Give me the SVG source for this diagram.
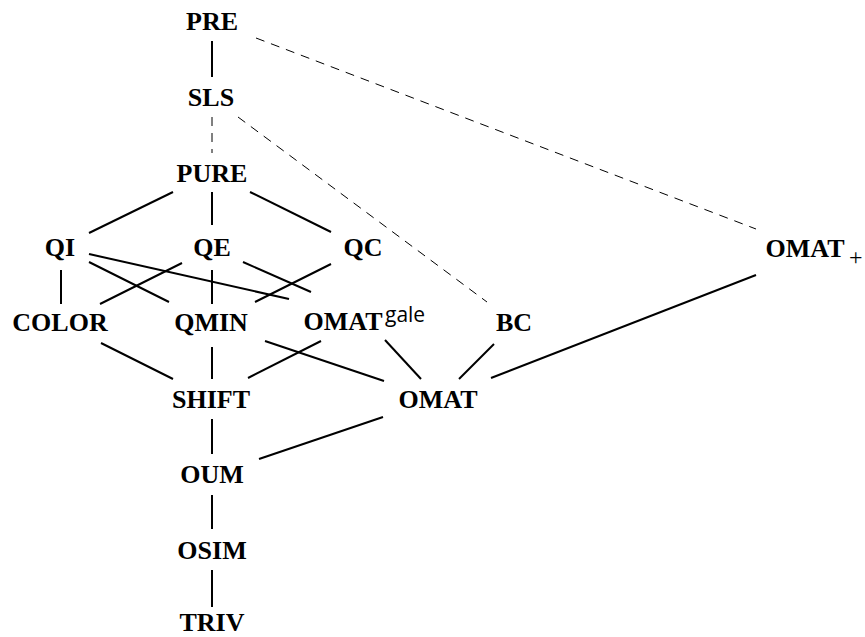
<svg xmlns="http://www.w3.org/2000/svg" width="865" height="637" viewBox="0 0 865 637">
<style>
.n{font-family:"Liberation Serif","DejaVu Serif",serif;font-weight:bold;font-size:26px;fill:#000;text-anchor:middle}
.sup{font-family:"Open Sans","Noto Sans",sans-serif;font-weight:normal;font-size:21px;fill:#000}
.sub{font-family:"Liberation Serif",serif;font-weight:normal;font-size:24px;fill:#000}
.s{stroke:#000;stroke-width:2;fill:none}
.d{stroke:#000;stroke-width:1;fill:none;stroke-dasharray:9 7}
</style>
<rect width="865" height="637" fill="#fff"/>
<g id="connectors">
<line class="s" x1="212" y1="41" x2="212" y2="77"/>
<line class="d" x1="212" y1="117" x2="212" y2="153"/>
<line class="d" x1="256" y1="38" x2="756" y2="229"/>
<line class="d" x1="238" y1="117" x2="487" y2="302"/>
<line class="s" x1="173" y1="192" x2="89" y2="233"/>
<line class="s" x1="212" y1="192" x2="212" y2="225"/>
<line class="s" x1="250" y1="192" x2="331" y2="232"/>
<line class="s" x1="61" y1="270" x2="61" y2="304"/>
<line class="s" x1="89" y1="262" x2="169" y2="302"/>
<line class="s" x1="89" y1="254" x2="289" y2="299"/>
<line class="s" x1="182" y1="263" x2="100" y2="304"/>
<line class="s" x1="212" y1="270" x2="212" y2="304"/>
<line class="s" x1="243" y1="262" x2="311" y2="292"/>
<line class="s" x1="331" y1="264" x2="255" y2="302"/>
<line class="s" x1="101" y1="343" x2="173" y2="379"/>
<line class="s" x1="212" y1="347" x2="212" y2="379"/>
<line class="s" x1="321" y1="341" x2="248" y2="378"/>
<line class="s" x1="265" y1="341" x2="384" y2="381"/>
<line class="s" x1="385" y1="340" x2="421" y2="379"/>
<line class="s" x1="494" y1="344" x2="459" y2="379"/>
<line class="s" x1="491" y1="378" x2="756" y2="275"/>
<line class="s" x1="212" y1="419" x2="212" y2="454"/>
<line class="s" x1="383" y1="417" x2="259" y2="459"/>
<line class="s" x1="212" y1="495" x2="212" y2="529"/>
<line class="s" x1="212" y1="570" x2="212" y2="607"/>
</g>
<g id="PRE"><text class="n" x="212" y="30">PRE</text></g>
<g id="SLS"><text class="n" x="211" y="106">SLS</text></g>
<g id="PURE"><text class="n" x="212" y="182">PURE</text></g>
<g id="QI"><text class="n" x="60" y="256">QI</text></g>
<g id="QE"><text class="n" x="212" y="256">QE</text></g>
<g id="QC"><text class="n" x="363" y="256">QC</text></g>
<g id="OMATplus"><text class="n" x="805" y="257">OMAT</text><text class="sub" x="849" y="265">+</text></g>
<g id="COLOR"><text class="n" x="60" y="331">COLOR</text></g>
<g id="QMIN"><text class="n" x="211" y="331">QMIN</text></g>
<g id="OMATgale"><text class="n" x="343" y="330">OMAT</text><text class="sup" x="385" y="322">gale</text></g>
<g id="BC"><text class="n" x="514" y="331">BC</text></g>
<g id="SHIFT"><text class="n" x="211" y="408">SHIFT</text></g>
<g id="OMAT"><text class="n" x="438" y="408">OMAT</text></g>
<g id="OUM"><text class="n" x="212" y="483">OUM</text></g>
<g id="OSIM"><text class="n" x="212" y="559">OSIM</text></g>
<g id="TRIV"><text class="n" x="212" y="631">TRIV</text></g>
</svg>
